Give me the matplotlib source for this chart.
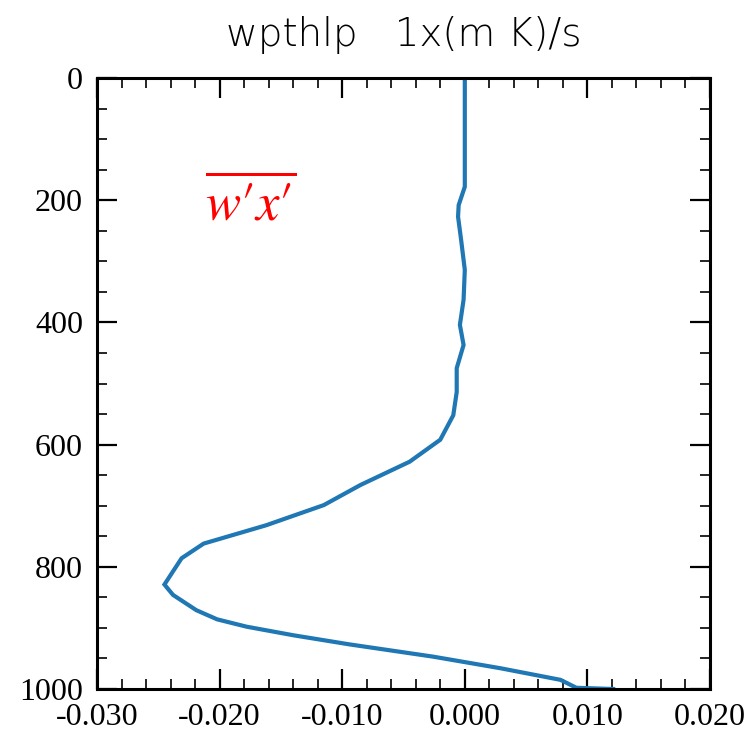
import matplotlib
matplotlib.use("Agg")
import matplotlib.pyplot as plt
from matplotlib.ticker import MultipleLocator, FormatStrFormatter

# profile values
wpthlp = [0.0, 0.0, -0.0005, -0.00055, -0.0003, 0.0, -0.0001, -0.0004, -0.0001,
          -0.00066, -0.00066, -0.00094, -0.0020, -0.0045, -0.0085, -0.0115,
          -0.0162, -0.0213, -0.0231, -0.0245, -0.0238, -0.0219, -0.0202,
          -0.0178, -0.0140, -0.0094, -0.0026, 0.0029, 0.0078, 0.0091, 0.0121]
height = [0, 178, 208, 227, 265, 314, 363, 404, 437, 475, 514, 552, 592, 628,
          666, 699, 732, 762, 786, 829, 846, 871, 886, 898, 912, 927, 947, 966,
          985, 998, 1000]

title = "wpthlp   1x(m K)/s"
label = r"$\overline{w\text{′}x\text{′}}$"

plt.rcParams["axes.unicode_minus"] = False
plt.rcParams["mathtext.fontset"] = "stix"

fig = plt.figure(figsize=(7.49, 7.38), dpi=100)
ax = fig.add_axes([97 / 749, 1 - 689 / 738, 613 / 749, 611 / 738])

ax.plot(wpthlp, height, color="#1f77b4", lw=3, solid_joinstyle="miter")

ax.set_xlim(-0.03, 0.02)
ax.set_ylim(1000, 0)
ax.xaxis.set_major_locator(MultipleLocator(0.01))
ax.xaxis.set_minor_locator(MultipleLocator(0.002))
ax.yaxis.set_major_locator(MultipleLocator(200))
ax.yaxis.set_minor_locator(MultipleLocator(50))
ax.xaxis.set_major_formatter(FormatStrFormatter("%.3f"))
ax.yaxis.set_major_formatter(FormatStrFormatter("%d"))

ax.tick_params(which="both", direction="in", top=True, right=True)
ax.tick_params(which="major", length=14.5, width=1.6, pad=10)
ax.tick_params(which="minor", length=7, width=1.2)
for lab in ax.get_xticklabels() + ax.get_yticklabels():
    lab.set_fontfamily("Liberation Serif")
    lab.set_fontsize(23)
for sp in ax.spines.values():
    sp.set_linewidth(2.2)

ax.set_title(title, family="DejaVu Sans", fontweight="light", fontsize=28, pad=23)
ax.text(-0.0175, 206, label, color="red", fontsize=38, ha="center", va="center")

fig.savefig("out.png", dpi=100)
